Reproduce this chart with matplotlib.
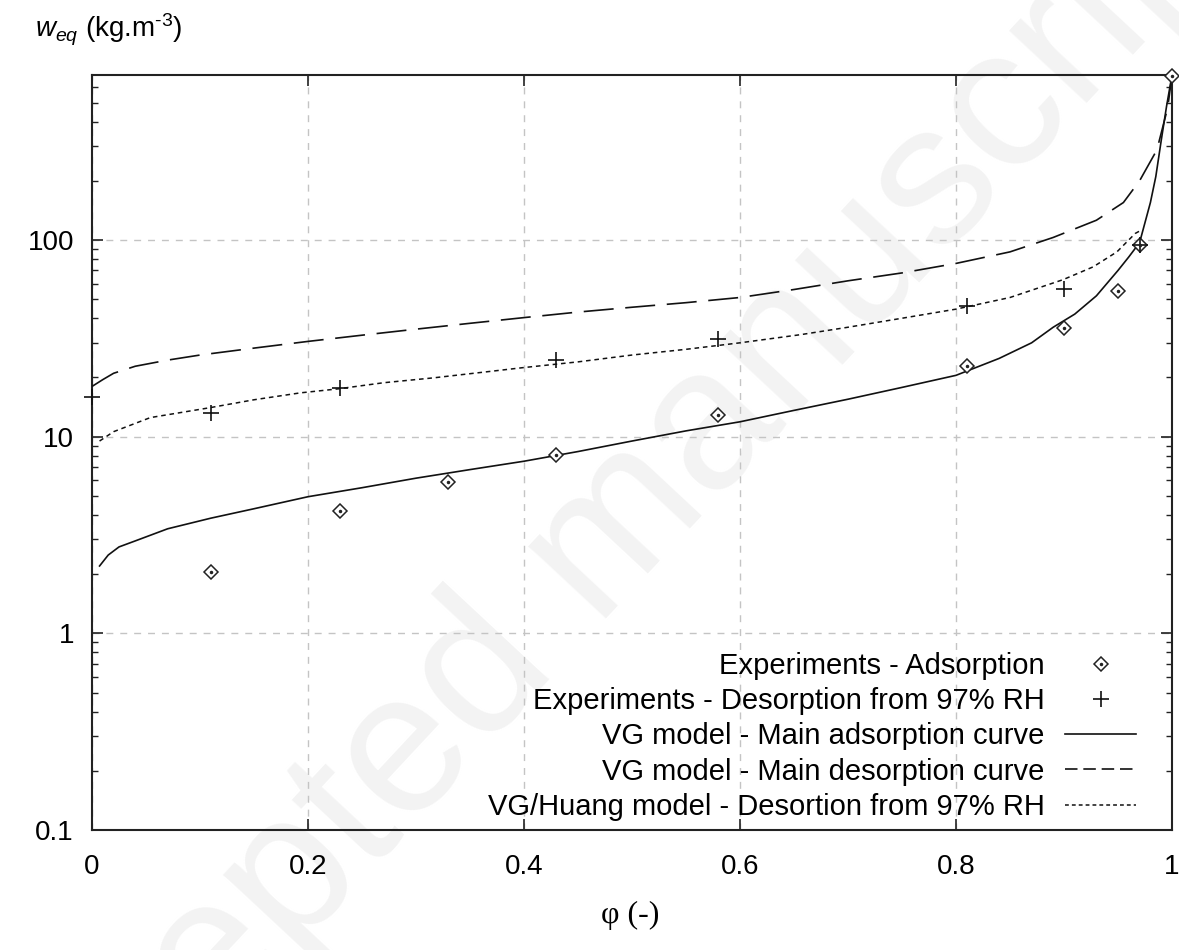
import matplotlib
matplotlib.use("Agg")
import matplotlib.pyplot as plt
from matplotlib.ticker import NullFormatter, FixedLocator, LogLocator

plt.rcParams["font.family"] = ["Liberation Sans", "DejaVu Sans"]
plt.rcParams["mathtext.fontset"] = "custom"
plt.rcParams["mathtext.rm"] = "Liberation Sans"
plt.rcParams["mathtext.it"] = "Liberation Sans:italic"

# experimental points
phi_ads = [0.11, 0.23, 0.33, 0.43, 0.58, 0.81, 0.90, 0.95, 0.97, 1.0]
w_ads = [2.05, 4.2, 5.9, 8.1, 12.9, 22.8, 35.8, 55, 94, 680]

phi_des = [0.0, 0.11, 0.23, 0.43, 0.58, 0.81, 0.90, 0.97]
w_des = [16, 13.2, 17.6, 24.5, 31.3, 46, 56.4, 94]

# VG model - main adsorption curve
phi_vg_ads = [0.007, 0.015, 0.025, 0.04, 0.07, 0.11, 0.15, 0.2, 0.25, 0.3, 0.35,
              0.4, 0.45, 0.5, 0.55, 0.6, 0.65, 0.7, 0.75, 0.8, 0.84, 0.87, 0.89,
              0.91, 0.93, 0.95, 0.96, 0.97, 0.98, 0.985, 0.99, 0.995, 1.0]
w_vg_ads = [2.2, 2.5, 2.75, 2.95, 3.4, 3.85, 4.3, 4.95, 5.5, 6.15, 6.8,
            7.5, 8.4, 9.5, 10.7, 11.9, 13.6, 15.5, 17.8, 20.5, 25, 30, 36,
            42, 52, 70, 82, 97, 155, 210, 320, 480, 690]

# VG model - main desorption curve
phi_vg_des = [0.0, 0.01, 0.02, 0.04, 0.07, 0.1, 0.15, 0.2, 0.25, 0.3, 0.35,
              0.4, 0.45, 0.5, 0.55, 0.6, 0.65, 0.7, 0.75, 0.8, 0.85, 0.89,
              0.93, 0.955, 0.97, 0.986, 0.996, 1.0]
w_vg_des = [18, 19.5, 21, 22.8, 24.5, 26, 28.2, 30.5, 32.8, 35.2, 37.7,
            40.3, 43, 45.5, 48, 51, 56, 62, 68, 76, 87, 103,
            126, 155, 200, 287, 470, 690]

# VG/Huang scanning curve from 97% RH
phi_huang = [0.007, 0.02, 0.054, 0.108, 0.15, 0.193, 0.228, 0.27, 0.316, 0.36,
             0.398, 0.45, 0.5, 0.55, 0.6, 0.656, 0.7, 0.75, 0.8, 0.85, 0.899,
             0.927, 0.949, 0.966, 0.97]
w_huang = [9.5, 10.6, 12.5, 14, 15.4, 16.7, 17.5, 18.8, 19.9, 21.2,
           22.4, 24, 26, 27.8, 30, 33, 36, 40, 44.5, 51, 62.8,
           73, 87, 108, 111]

xticks = [0, 0.2, 0.4, 0.6, 0.8, 1]
xticklabels = ["0", "0.2", "0.4", "0.6", "0.8", "1"]
yticks = [0.1, 1, 10, 100]
yticklabels = ["0.1", "1", "10", "100"]

ink = "#111111"

fig = plt.figure(figsize=(11.79, 9.5), dpi=100)
ax = fig.add_axes([92 / 1179, 120 / 950, 1080 / 1179, 755 / 950])
ax.patch.set_visible(False)

# faint diagonal stamp behind everything
fig.text(0.50, 0.41, "Accepted manuscript", fontsize=145, color="#f3f3f3",
         rotation=47, ha="center", va="center", zorder=-5)

ax.set_yscale("log")
ax.set_xlim(0, 1)
ax.set_ylim(0.1, 690)

ax.plot(phi_vg_ads, w_vg_ads, color=ink, lw=1.2, zorder=3)
ax.plot(phi_vg_des, w_vg_des, color=ink, lw=1.2, dashes=(18, 7), zorder=3)
ax.plot(phi_huang, w_huang, color=ink, lw=1.1, dashes=(3, 2.5), zorder=3)

h_dia, = ax.plot(phi_ads, w_ads, ls="none", marker="D", ms=7, mfc="white",
                 mec="#222222", mew=1.1, clip_on=False, zorder=4)
h_dot, = ax.plot(phi_ads, w_ads, ls="none", marker="o", ms=1.5, color="#222222",
                 clip_on=False, zorder=5)
h_plus, = ax.plot(phi_des, w_des, ls="none", marker="+", ms=11, mec=ink,
                  mew=1.2, clip_on=False, zorder=4)

h_l1, = ax.plot([], [], color=ink, lw=1.2)
h_l2, = ax.plot([], [], color=ink, lw=1.2, dashes=(7.5, 3.5))
h_l3, = ax.plot([], [], color=ink, lw=1.1, dashes=(2.5, 2))

ax.set_xticks(xticks)
ax.set_xticklabels(xticklabels)
ax.yaxis.set_major_locator(FixedLocator(yticks))
ax.set_yticklabels(yticklabels)
ax.yaxis.set_minor_locator(LogLocator(base=10, subs=range(2, 10)))
ax.yaxis.set_minor_formatter(NullFormatter())

ax.tick_params(which="both", direction="in", top=True, right=True,
               color="#222222")
ax.tick_params(which="major", length=8, width=1.2, labelsize=20)
ax.tick_params(axis="y", which="major", pad=13)
ax.tick_params(axis="x", which="major", pad=17)
ax.tick_params(which="minor", length=4, width=1)

for sp in ax.spines.values():
    sp.set_linewidth(1.5)
    sp.set_color("#222222")

ax.grid(True, which="major", color="#c4c4c4", ls=(0, (5, 5)), lw=1.0, zorder=1)

leg = ax.legend([(h_dia, h_dot), h_plus, h_l1, h_l2, h_l3],
                ["Experiments - Adsorption",
                 "Experiments - Desorption from 97% RH",
                 "VG model - Main adsorption curve",
                 "VG model - Main desorption curve",
                 "VG/Huang model - Desortion from 97% RH"],
                loc="lower right", bbox_to_anchor=(0.967, 0.012),
                frameon=False, markerfirst=False, fontsize=21,
                handlelength=2.45, handletextpad=0.7, labelspacing=0.25,
                borderpad=0, borderaxespad=0)
leg.set_zorder(6)

fig.text(35 / 1179, 1 - 30 / 950, r"$\mathit{w}_{\mathit{eq}}$ (kg.m$^{\text{-3}}$)",
         fontsize=20, ha="left", va="center")
fig.text(630 / 1179, 1 - 915 / 950, "\u03c6 (-)", fontsize=23,
         family=["Liberation Serif", "DejaVu Serif"], ha="center", va="center")

fig.savefig("out.png", dpi=100)
